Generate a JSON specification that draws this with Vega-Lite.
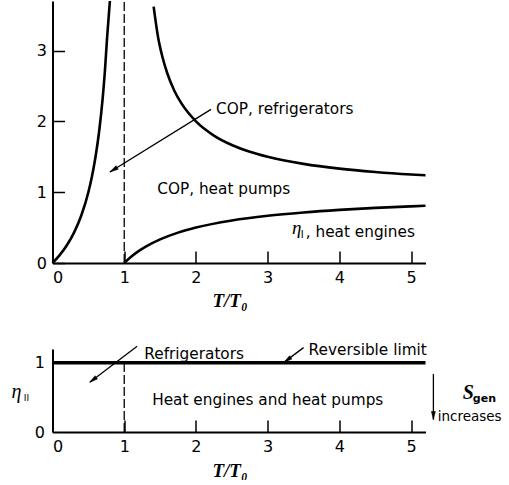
{
  "$schema": "https://vega.github.io/schema/vega-lite/v6.json",
  "autosize": "pad",
  "padding": {"left": 11.5, "top": -5, "right": 0, "bottom": 0},
  "background": "white",
  "bounds": "flush",
  "spacing": 86,
  "config": {
    "view": {"stroke": null},
    "axis": {
      "domainColor": "black", "domainWidth": 2, "tickColor": "black", "tickWidth": 1.5,
      "tickSize": -12, "labelPadding": 18, "labelFont": "DejaVu Sans", "labelFontSize": 16,
      "labelColor": "black", "grid": false, "titleColor": "black"
    },
    "text": {"font": "DejaVu Sans", "fontSize": 15.3, "color": "black", "align": "left", "baseline": "alphabetic"}
  },
  "datasets": {
    "curves": [
      {"series": "refrigerators", "x": 0.0, "y": 0.0},
      {"series": "refrigerators", "x": 0.1, "y": 0.111},
      {"series": "refrigerators", "x": 0.2, "y": 0.25},
      {"series": "refrigerators", "x": 0.3, "y": 0.429},
      {"series": "refrigerators", "x": 0.4, "y": 0.667},
      {"series": "refrigerators", "x": 0.5, "y": 1.0},
      {"series": "refrigerators", "x": 0.55, "y": 1.222},
      {"series": "refrigerators", "x": 0.6, "y": 1.5},
      {"series": "refrigerators", "x": 0.65, "y": 1.857},
      {"series": "refrigerators", "x": 0.7, "y": 2.333},
      {"series": "refrigerators", "x": 0.73, "y": 2.704},
      {"series": "refrigerators", "x": 0.76, "y": 3.167},
      {"series": "refrigerators", "x": 0.8, "y": 3.7},
      {"series": "heat pumps", "x": 1.41, "y": 3.62},
      {"series": "heat pumps", "x": 1.47, "y": 3.2},
      {"series": "heat pumps", "x": 1.53, "y": 2.92},
      {"series": "heat pumps", "x": 1.6, "y": 2.68},
      {"series": "heat pumps", "x": 1.7, "y": 2.43},
      {"series": "heat pumps", "x": 1.8, "y": 2.25},
      {"series": "heat pumps", "x": 2.0, "y": 2.0},
      {"series": "heat pumps", "x": 2.25, "y": 1.8},
      {"series": "heat pumps", "x": 2.5, "y": 1.667},
      {"series": "heat pumps", "x": 2.75, "y": 1.571},
      {"series": "heat pumps", "x": 3.0, "y": 1.5},
      {"series": "heat pumps", "x": 3.5, "y": 1.4},
      {"series": "heat pumps", "x": 4.0, "y": 1.333},
      {"series": "heat pumps", "x": 4.5, "y": 1.286},
      {"series": "heat pumps", "x": 5.0, "y": 1.25},
      {"series": "heat pumps", "x": 5.2, "y": 1.238},
      {"series": "heat engines", "x": 1.0, "y": 0.0},
      {"series": "heat engines", "x": 1.1, "y": 0.091},
      {"series": "heat engines", "x": 1.2, "y": 0.167},
      {"series": "heat engines", "x": 1.3, "y": 0.231},
      {"series": "heat engines", "x": 1.5, "y": 0.333},
      {"series": "heat engines", "x": 1.75, "y": 0.429},
      {"series": "heat engines", "x": 2.0, "y": 0.5},
      {"series": "heat engines", "x": 2.5, "y": 0.6},
      {"series": "heat engines", "x": 3.0, "y": 0.667},
      {"series": "heat engines", "x": 3.5, "y": 0.714},
      {"series": "heat engines", "x": 4.0, "y": 0.75},
      {"series": "heat engines", "x": 4.5, "y": 0.778},
      {"series": "heat engines", "x": 5.0, "y": 0.8},
      {"series": "heat engines", "x": 5.2, "y": 0.808}
    ],
    "topDash": [{"x": 1, "y": 0, "y2": 3.7}],
    "topArrows": [{"x": 2.21, "y": 2.17, "x2": 0.8, "y2": 1.285, "angle": 238}],
    "topTexts": [
      {"x": 2.28, "y": 2.11, "label": "COP, refrigerators"},
      {"x": 1.46, "y": 0.97, "label": "COP, heat pumps"},
      {"x": 3.53, "y": 0.37, "label": ", heat engines"}
    ],
    "topEta": [{"x": 3.34, "y": 0.41, "label": "η"}],
    "topSub": [{"x": 3.46, "y": 0.35, "label": "I"}],
    "limitLine": [{"x": 0, "y": 1}, {"x": 5.2, "y": 1}],
    "botDash": [{"x": 1, "y": 0, "y2": 1}],
    "botArrows": [
      {"x": 1.18, "y": 1.24, "x2": 0.52, "y2": 0.72, "angle": 233},
      {"x": 3.5, "y": 1.22, "x2": 3.23, "y2": 1.01, "angle": 234},
      {"x": 5.31, "y": 0.84, "x2": 5.31, "y2": 0.18, "angle": 180}
    ],
    "botTexts": [
      {"x": 1.28, "y": 1.06, "label": "Refrigerators"},
      {"x": 3.57, "y": 1.11, "label": "Reversible limit"},
      {"x": 1.39, "y": 0.39, "label": "Heat engines and heat pumps"}
    ],
    "botIncr": [{"x": 5.37, "y": 0.16, "label": "increases"}],
    "botS": [{"x": 5.72, "y": 0.48, "label": "S"}],
    "botGen": [{"x": 5.86, "y": 0.43, "label": "gen"}],
    "botEta": [{"x": -0.57, "y": 0.49, "label": "η"}],
    "botII": [{"x": -0.4, "y": 0.45, "label": "II"}]
  },
  "vconcat": [
    {
      "width": 373,
      "height": 262,
      "encoding": {
        "x": {"field": "x", "type": "quantitative", "scale": {"domain": [0, 5.2], "nice": false, "zero": false},
          "axis": {"values": [0, 1, 2, 3, 4, 5], "format": "d", "title": "T/T₀", "titleFont": "Liberation Serif", "titleFontStyle": "italic", "titleFontWeight": "bold", "titleFontSize": 19, "titleX": 177, "titleY": 37, "titleBaseline": "middle", "titleAlign": "center"}},
        "y": {"field": "y", "type": "quantitative", "scale": {"domain": [0, 3.7], "nice": false},
          "axis": {"values": [0, 1, 2, 3], "format": "d", "title": null}}
      },
      "layer": [
        {"data": {"name": "curves"}, "mark": {"type": "line", "color": "black", "strokeWidth": 2.6, "interpolate": "monotone"},
          "encoding": {"detail": {"field": "series"}}},
        {"data": {"name": "topDash"}, "mark": {"type": "rule", "color": "black", "strokeWidth": 1.3, "strokeDash": [9, 3]},
          "encoding": {"y2": {"field": "y2"}}},
        {"data": {"name": "topArrows"}, "mark": {"type": "rule", "color": "black", "strokeWidth": 1.3},
          "encoding": {"x2": {"field": "x2"}, "y2": {"field": "y2"}}},
        {"data": {"name": "topArrows"}, "mark": {"type": "point", "shape": "M0,0L0.45,1.8L-0.45,1.8Z", "fill": "black", "stroke": "black", "strokeWidth": 0.5, "size": 90, "opacity": 1, "fillOpacity": 1},
          "encoding": {"x": {"field": "x2", "type": "quantitative"}, "y": {"field": "y2", "type": "quantitative"}, "angle": {"field": "angle", "type": "quantitative", "scale": null}}},
        {"data": {"name": "topTexts"}, "mark": {"type": "text"}, "encoding": {"text": {"field": "label"}}},
        {"data": {"name": "topEta"}, "mark": {"type": "text", "font": "Liberation Serif", "fontStyle": "italic", "fontSize": 19}, "encoding": {"text": {"field": "label"}}},
        {"data": {"name": "topSub"}, "mark": {"type": "text", "fontSize": 10}, "encoding": {"text": {"field": "label"}}}
      ]
    },
    {
      "width": 373,
      "height": 83,
      "encoding": {
        "x": {"field": "x", "type": "quantitative", "scale": {"domain": [0, 5.2], "nice": false, "zero": false},
          "axis": {"values": [0, 1, 2, 3, 4, 5], "format": "d", "title": "T/T₀", "titleFont": "Liberation Serif", "titleFontStyle": "italic", "titleFontWeight": "bold", "titleFontSize": 19, "titleX": 177, "titleY": 38, "titleBaseline": "middle", "titleAlign": "center"}},
        "y": {"field": "y", "type": "quantitative", "scale": {"domain": [0, 1.2], "nice": false},
          "axis": {"values": [0, 1], "format": "d", "title": null, "tickSize": 0, "labelPadding": 8}}
      },
      "layer": [
        {"data": {"name": "limitLine"}, "mark": {"type": "line", "color": "black", "strokeWidth": 3.5}},
        {"data": {"name": "botDash"}, "mark": {"type": "rule", "color": "black", "strokeWidth": 1.3, "strokeDash": [9, 3]},
          "encoding": {"y2": {"field": "y2"}}},
        {"data": {"name": "botArrows"}, "mark": {"type": "rule", "color": "black", "strokeWidth": 1.3},
          "encoding": {"x2": {"field": "x2"}, "y2": {"field": "y2"}}},
        {"data": {"name": "botArrows"}, "mark": {"type": "point", "shape": "M0,0L0.45,1.8L-0.45,1.8Z", "fill": "black", "stroke": "black", "strokeWidth": 0.5, "size": 80, "opacity": 1, "fillOpacity": 1},
          "encoding": {"x": {"field": "x2", "type": "quantitative"}, "y": {"field": "y2", "type": "quantitative"}, "angle": {"field": "angle", "type": "quantitative", "scale": null}}},
        {"data": {"name": "botTexts"}, "mark": {"type": "text"}, "encoding": {"text": {"field": "label"}}},
        {"data": {"name": "botIncr"}, "mark": {"type": "text", "fontSize": 13.5}, "encoding": {"text": {"field": "label"}}},
        {"data": {"name": "botS"}, "mark": {"type": "text", "font": "Liberation Serif", "fontStyle": "italic", "fontWeight": "bold", "fontSize": 20}, "encoding": {"text": {"field": "label"}}},
        {"data": {"name": "botGen"}, "mark": {"type": "text", "fontSize": 11, "fontWeight": "bold"}, "encoding": {"text": {"field": "label"}}},
        {"data": {"name": "botEta"}, "mark": {"type": "text", "font": "Liberation Serif", "fontStyle": "italic", "fontSize": 20}, "encoding": {"text": {"field": "label"}}},
        {"data": {"name": "botII"}, "mark": {"type": "text", "fontSize": 9}, "encoding": {"text": {"field": "label"}}}
      ]
    }
  ]
}
